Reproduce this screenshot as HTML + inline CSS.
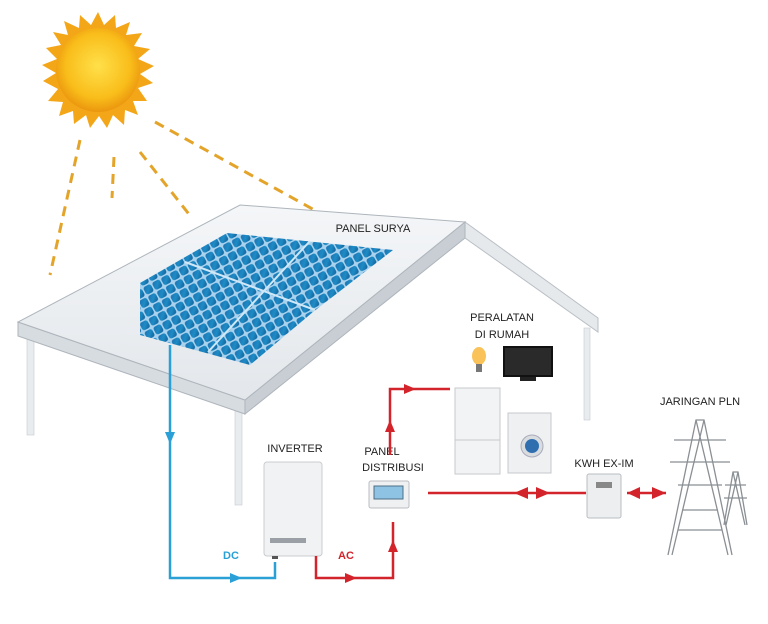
<!DOCTYPE html>
<html><head><style>
html,body{margin:0;padding:0;background:#fff;}
svg{display:block;font-family:"Liberation Sans",sans-serif;}
</style></head><body>
<svg width="768" height="624" viewBox="0 0 768 624" xmlns="http://www.w3.org/2000/svg">
<defs>
<radialGradient id="sun" cx="50%" cy="45%" r="55%"><stop offset="0" stop-color="#ffe04a"/><stop offset="0.7" stop-color="#f9bd1a"/><stop offset="1" stop-color="#eb960e"/></radialGradient>
<linearGradient id="pv" x1="0" y1="0" x2="1" y2="1"><stop offset="0" stop-color="#1f6fae"/><stop offset="0.5" stop-color="#1d8cc6"/><stop offset="1" stop-color="#155c94"/></linearGradient>
<linearGradient id="roof" x1="0" y1="0" x2="0" y2="1"><stop offset="0" stop-color="#f4f6f8"/><stop offset="1" stop-color="#e3e7eb"/></linearGradient>
<pattern id="cells" width="10" height="10" patternUnits="userSpaceOnUse" patternTransform="rotate(-28)"><rect width="10" height="10" fill="#a8d2ee"/><rect x="1" y="1" width="8.5" height="8.5" rx="2.5" fill="url(#pv)"/></pattern>
</defs>

<g stroke="#e3a429" stroke-width="3" stroke-dasharray="10,7" fill="none">
<line x1="80" y1="140" x2="50" y2="275"/>
<line x1="114" y1="157" x2="112" y2="198"/>
<line x1="140" y1="152" x2="192" y2="218"/>
<line x1="155" y1="122" x2="318" y2="212"/>
</g>
<g transform="translate(98,70)">
<polygon fill="#f4a619" points="0,-58 6,-45 17,-55 18,-42 32,-48 28,-35 44,-37 36,-24 52,-21 40,-11 56,-4 42,4 55,13 40,18 49,31 35,31 40,45 27,40 26,55 15,45 9,58 1,46 -8,58 -12,45 -24,54 -25,41 -39,46 -35,32 -50,31 -40,19 -55,11 -42,3 -56,-5 -41,-11 -52,-22 -37,-25 -45,-38 -30,-35 -34,-49 -19,-42 -18,-55 -7,-45"/>
<circle r="42" fill="url(#sun)"/>
</g>

<polygon points="465,222 598,318 598,332 465,238" fill="#e6e9ec" stroke="#b9bfc5"/>
<rect x="584" y="328" width="6" height="92" fill="#e9ecef" stroke="#c5cad0" stroke-width="0.6"/>
<rect x="27" y="335" width="7" height="100" fill="#e9ecef" stroke="#c5cad0" stroke-width="0.6"/>
<rect x="235" y="400" width="7" height="105" fill="#e9ecef" stroke="#c5cad0" stroke-width="0.6"/>
<polygon points="18,322 245,400 245,414 18,336" fill="#d7dce1" stroke="#aeb5bc"/>
<polygon points="245,400 465,222 465,238 245,414" fill="#c8ced4" stroke="#aeb5bc"/>
<polygon points="240,205 465,222 245,400 18,322" fill="url(#roof)" stroke="#aeb5bc"/>
<!-- solar panel -->
<polygon points="227,233 393,250 313,312 250,365 140,335 140,283" fill="url(#cells)"/>
<line x1="310" y1="241" x2="208" y2="352" stroke="#cfe8f8" stroke-width="2"/>
<line x1="185" y1="262" x2="315" y2="310" stroke="#cfe8f8" stroke-width="2"/>
<text x="373" y="232" font-size="11" text-anchor="middle" fill="#222">PANEL SURYA</text>

<polyline points="170,345 170,578 275,578 275,562" fill="none" stroke="#2aa0d6" stroke-width="2.5"/>
<path d="M165,432 L175,432 L170,444z" fill="#2aa0d6"/>
<path d="M230,573 L242,578 L230,583z" fill="#2aa0d6"/>
<text x="231" y="559" font-size="11" font-weight="bold" fill="#2aa0d6" text-anchor="middle">DC</text>

<text x="295" y="452" font-size="11" text-anchor="middle" fill="#222">INVERTER</text>
<rect x="264" y="462" width="58" height="94" rx="3" fill="#f1f2f3" stroke="#c9cccf"/>
<rect x="270" y="538" width="36" height="5" fill="#9aa0a6"/>
<rect x="272" y="556" width="6" height="3" fill="#555"/>

<polyline points="316,556 316,578 393,578 393,522" fill="none" stroke="#d3242b" stroke-width="2.5"/>
<path d="M345,573 L357,578 L345,583z" fill="#d3242b"/>
<path d="M388,552 L398,552 L393,540z" fill="#d3242b"/>
<text x="346" y="559" font-size="11" font-weight="bold" fill="#d3242b" text-anchor="middle">AC</text>

<text x="382" y="455" font-size="11" text-anchor="middle" fill="#222">PANEL</text>
<text x="393" y="471" font-size="11" text-anchor="middle" fill="#222">DISTRIBUSI</text>
<rect x="369" y="481" width="40" height="27" rx="2" fill="#eef0f2" stroke="#b9bdc2"/>
<rect x="374" y="486" width="29" height="13" fill="#8fc3e3" stroke="#4d6f86"/>

<polyline points="390,455 390,389 450,389" fill="none" stroke="#d3242b" stroke-width="2.5"/>
<path d="M385,432 L395,432 L390,420z" fill="#d3242b"/>
<path d="M404,384 L416,389 L404,394z" fill="#d3242b"/>

<text x="502" y="321" font-size="11" text-anchor="middle" fill="#222">PERALATAN</text>
<text x="502" y="338" font-size="11" text-anchor="middle" fill="#222">DI RUMAH</text>
<ellipse cx="479" cy="356" rx="7" ry="9" fill="#f9c35a"/>
<rect x="476" y="364" width="6" height="8" fill="#777"/>
<rect x="503" y="346" width="50" height="31" fill="#111"/>
<rect x="505" y="348" width="46" height="27" fill="#2a2a2a"/>
<rect x="520" y="377" width="16" height="4" fill="#222"/>
<rect x="455" y="388" width="45" height="86" fill="#f2f3f4" stroke="#c5c9cd"/>
<line x1="455" y1="440" x2="500" y2="440" stroke="#c5c9cd"/>
<rect x="508" y="413" width="43" height="60" fill="#eef0f1" stroke="#c5c9cd"/>
<circle cx="532" cy="446" r="11" fill="#d9dde0" stroke="#aab"/>
<circle cx="532" cy="446" r="7" fill="#2f6fb0"/>

<line x1="428" y1="493" x2="586" y2="493" stroke="#d3242b" stroke-width="2.5"/>
<path d="M528,487 L514,493 L528,499z" fill="#d3242b"/>
<path d="M536,487 L550,493 L536,499z" fill="#d3242b"/>
<text x="604" y="467" font-size="11" text-anchor="middle" fill="#222">KWH EX-IM</text>
<rect x="587" y="474" width="34" height="44" rx="2" fill="#eceeef" stroke="#b9bdc2"/>
<rect x="596" y="482" width="16" height="6" fill="#888"/>
<line x1="627" y1="493" x2="666" y2="493" stroke="#d3242b" stroke-width="2.5"/>
<path d="M640,487 L627,493 L640,499z" fill="#d3242b"/>
<path d="M652,487 L666,493 L652,499z" fill="#d3242b"/>

<text x="700" y="405" font-size="11" text-anchor="middle" fill="#222">JARINGAN PLN</text>
<g stroke="#8a8f94" stroke-width="1.3" fill="none">
<polyline points="668,555 696,420 704,420 732,555"/>
<line x1="696" y1="420" x2="728" y2="555"/><line x1="704" y1="420" x2="672" y2="555"/>
<line x1="674" y1="440" x2="726" y2="440"/><line x1="670" y1="462" x2="730" y2="462"/><line x1="678" y1="485" x2="722" y2="485"/>
<line x1="682" y1="510" x2="718" y2="510"/><line x1="678" y1="530" x2="722" y2="530"/>
<polyline points="724,525 733,472 738,472 747,525"/>
<line x1="733" y1="472" x2="745" y2="525"/><line x1="738" y1="472" x2="726" y2="525"/>
<line x1="725" y1="485" x2="746" y2="485"/><line x1="724" y1="498" x2="747" y2="498"/>
</g>
</svg>
</body></html>
